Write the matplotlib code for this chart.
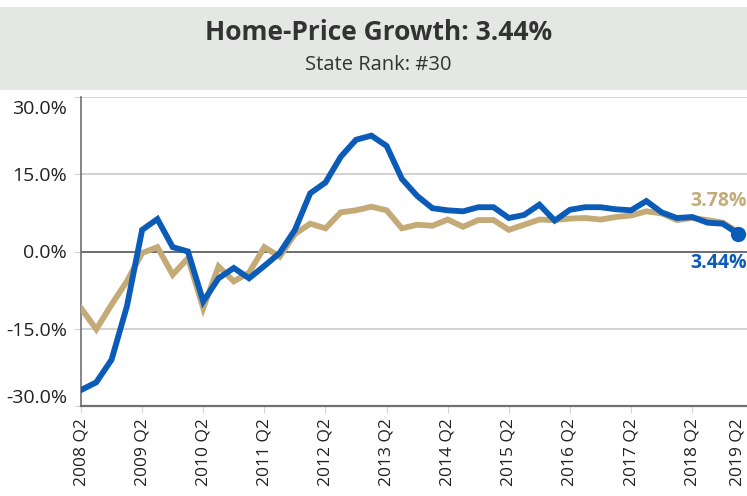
import matplotlib
matplotlib.use("Agg")
import matplotlib.pyplot as plt
from matplotlib.patches import Rectangle
from matplotlib.transforms import offset_copy

# ---- data ----
quarters = ["2008 Q2", "2009 Q2", "2010 Q2", "2011 Q2", "2012 Q2", "2013 Q2",
            "2014 Q2", "2015 Q2", "2016 Q2", "2017 Q2", "2018 Q2", "2019 Q2"]
state = [-26.9, -25.4, -21.0, -10.7, 4.2, 6.3, 0.85, 0.0, -9.7, -5.2, -3.2, -5.2,
         -2.8, -0.3, 4.2, 11.3, 13.4, 18.4, 21.7, 22.5, 20.5, 14.1, 10.8, 8.4,
         8.0, 7.8, 8.6, 8.6, 6.5, 7.1, 9.1, 6.0, 8.1, 8.6, 8.6, 8.2, 8.0, 9.8,
         7.6, 6.5, 6.7, 5.6, 5.4, 3.44]
national = [-11.0, -15.1, -10.3, -5.8, -0.3, 0.85, -4.5, -1.3, -11.0, -2.9, -5.8,
            -4.1, 0.85, -1.0, 3.4, 5.4, 4.5, 7.6, 8.0, 8.7, 8.0, 4.5, 5.2, 5.0,
            6.2, 4.8, 6.1, 6.1, 4.2, 5.2, 6.2, 6.1, 6.4, 6.5, 6.2, 6.7, 7.0, 7.8,
            7.4, 6.1, 6.5, 6.1, 5.6, 3.78]
yticks = [-30, -15, 0, 15, 30]

title = "Home-Price Growth: 3.44%"
subtitle = "State Rank: #30"

BLUE = "#0A5CB8"
TAN = "#C4AA76"
TXT = "#222222"
FONT = ["Open Sans", "DejaVu Sans"]

W, H = 747, 496
fig = plt.figure(figsize=(W / 100, H / 100), dpi=100)

# header box
fig.patches.append(Rectangle((0, 1 - 90 / H), 1, 83 / H, transform=fig.transFigure,
                             facecolor="#E4E7E4", edgecolor="none", zorder=0))
fig.text(379 / W, 1 - 33 / H, title, ha="center", va="center", fontsize=19,
         fontweight="bold", color="#333333", family=FONT)
fig.text(378 / W, 1 - 65 / H, subtitle, ha="center", va="center", fontsize=14.5,
         color="#333333", family=FONT)

x0, x1 = 81, 747
ytop, ybot = 97, 406
ax = fig.add_axes([x0 / W, 1 - ybot / H, (x1 - x0) / W, (ybot - ytop) / H])

step = 15.28
xs = list(range(len(state)))
ax.set_xlim(0, (x1 - x0) / step)
ax.set_ylim(-30, 30)

for y in yticks:
    if y == 0:
        ax.axhline(y, color="#6E6E6E", lw=1.4, zorder=1)
    elif y != -30:
        ax.axhline(y, color="#CFCFCF", lw=1.3, zorder=1)

ax.plot(xs, national, color=TAN, lw=4.2, solid_joinstyle="miter", zorder=3)
ax.plot(xs, state, color=BLUE, lw=4.2, solid_joinstyle="miter", zorder=4)
ax.plot(xs[-1], state[-1], "o", color=BLUE, ms=10, zorder=5)

# end labels (offset in points from the last values)
ax.annotate(f"{national[-1]:.2f}%", xy=(1.0, national[-1]), xycoords=ax.get_yaxis_transform(),
            xytext=(0, 22), textcoords="offset points", annotation_clip=False,
            ha="right", va="center", fontsize=14, fontweight="bold", color=TAN, family=FONT)
ax.annotate(f"{state[-1]:.2f}%", xy=(1.0, state[-1]), xycoords=ax.get_yaxis_transform(),
            xytext=(0, -21), textcoords="offset points", annotation_clip=False,
            ha="right", va="center", fontsize=14, fontweight="bold", color=BLUE, family=FONT)

for s in ["top", "right"]:
    ax.spines[s].set_visible(False)
ax.spines["left"].set_color("#707070")
ax.spines["left"].set_linewidth(1.2)
ax.spines["bottom"].set_color("#707070")
ax.spines["bottom"].set_linewidth(1.6)

ax.set_yticks(yticks)
ax.set_yticklabels([f"{v:.1f}%" for v in yticks], fontsize=14, color=TXT, family=FONT)
ax.tick_params(axis="y", length=5, color="#D5D5D5", pad=5)
# extreme labels pushed inward like the reference
ylabs = ax.get_yticklabels()
ylabs[0].set_transform(ylabs[0].get_transform() + offset_copy(ax.transAxes, fig=fig, x=0, y=0).inverted() + offset_copy(ax.transAxes, fig=fig, x=0, y=7, units="points"))
ylabs[-1].set_transform(ylabs[-1].get_transform() + offset_copy(ax.transAxes, fig=fig, x=0, y=0).inverted() + offset_copy(ax.transAxes, fig=fig, x=0, y=-7, units="points"))

tick_pos = [4 * i for i in range(len(quarters) - 1)]
ax.set_xticks(tick_pos)
ax.set_xticklabels(quarters[:-1], rotation=90, fontsize=12.5, color=TXT, family=FONT)
ax.tick_params(axis="x", length=5, color="#D5D5D5", pad=4)
# last label squeezed in at the right edge
last = ax.text((738 - x0) / step, -30, quarters[-1],
               transform=offset_copy(ax.transData, fig=fig, x=0, y=-9, units="points"),
               rotation=90, ha="center", va="top", fontsize=12.5, color=TXT, family=FONT)
last.set_clip_on(False)

fig.savefig("out.png", dpi=100)
